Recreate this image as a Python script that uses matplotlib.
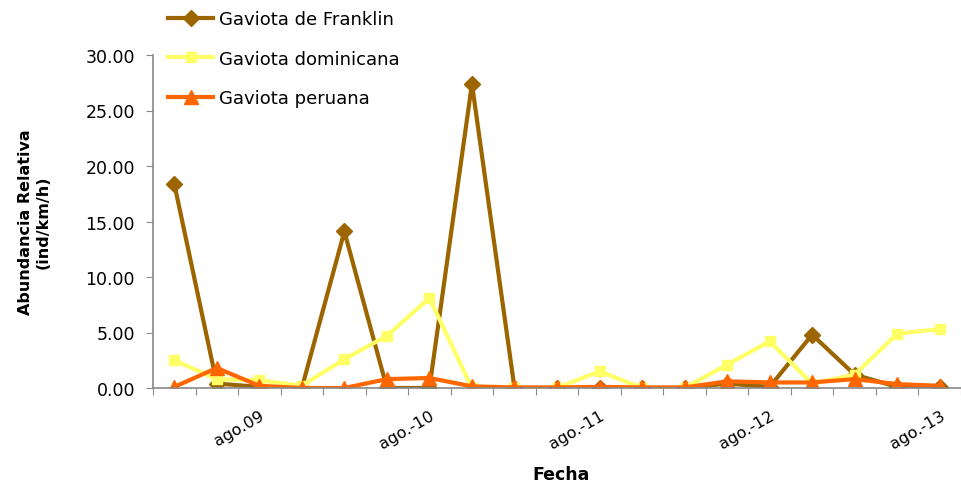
import matplotlib.pyplot as plt
import numpy as np

# Relative abundance (ind/km/h) per survey
franklin = [18.4, 0.4, 0.1, 0.0, 14.1, 0.0, 0.0, 27.4, 0.0, 0.0, 0.0, 0.0, 0.0, 0.4, 0.1, 4.8, 1.2, 0.1, 0.1]
dominicana = [2.5, 0.8, 0.7, 0.2, 2.6, 4.7, 8.1, 0.0, 0.0, 0.0, 1.5, 0.0, 0.0, 2.1, 4.2, 0.4, 1.2, 4.9, 5.3]
peruana = [0.1, 1.8, 0.2, 0.0, 0.0, 0.8, 0.9, 0.15, 0.05, 0.05, 0.1, 0.05, 0.05, 0.6, 0.5, 0.5, 0.8, 0.35, 0.2]

labels = ['ago.09', 'ago.-10', 'ago.-11', 'ago.-12', 'ago.-13']
label_idx = [2, 6, 10, 14, 18]

plt.rcParams['font.family'] = ['DejaVu Sans']

fig = plt.figure(figsize=(9.61, 4.85), dpi=100)
ax = fig.add_axes([153 / 961, 96 / 485, 808 / 961, 333 / 485])

x = np.arange(len(franklin))
ax.plot(x, franklin, color='#9C6500', lw=3, marker='D', ms=8, label='Gaviota de Franklin')
ax.plot(x, dominicana, color='#FFFF66', lw=3, marker='s', ms=7, label='Gaviota dominicana')
ax.plot(x, peruana, color='#FF6600', lw=3, marker='^', ms=10, label='Gaviota peruana')

ax.set_ylim(0, 30)
ax.set_xlim(-0.5, 18.38)
ax.set_yticks(np.arange(0, 31, 5))
ax.set_yticklabels(['%.2f' % v for v in np.arange(0, 31, 5)], fontsize=12.5)

# category boundaries get tick marks, labels sit on categories
ax.set_xticks(np.arange(-0.5, 19, 1))
ax.set_xticklabels([])
ax.set_xticks(label_idx, minor=True)
ax.set_xticklabels(labels, minor=True, rotation=30, ha='right', rotation_mode='anchor', fontsize=11.5)
ax.tick_params(axis='x', which='minor', length=0, pad=14)
ax.tick_params(axis='x', which='major', length=5, color='#888888', direction='out')
ax.tick_params(axis='y', length=5, color='#888888', direction='out', pad=8)

for s in ['top', 'right']:
    ax.spines[s].set_visible(False)
for s in ['left', 'bottom']:
    ax.spines[s].set_color('#888888')
    ax.spines[s].set_linewidth(1.2)

ax.set_ylabel('Abundancia Relativa\n(ind/km/h)', fontsize=11.5, fontweight='bold', labelpad=25)
fig.text(561 / 961, 1 - 475 / 485, 'Fecha', fontsize=12.5, fontweight='bold', ha='center', va='center')

fig.legend(loc='upper left', bbox_to_anchor=(152 / 961, 1.01), frameon=False,
           fontsize=13, labelspacing=1.18, handlelength=2.5, handletextpad=0.3)

fig.savefig('out.png', dpi=100)
